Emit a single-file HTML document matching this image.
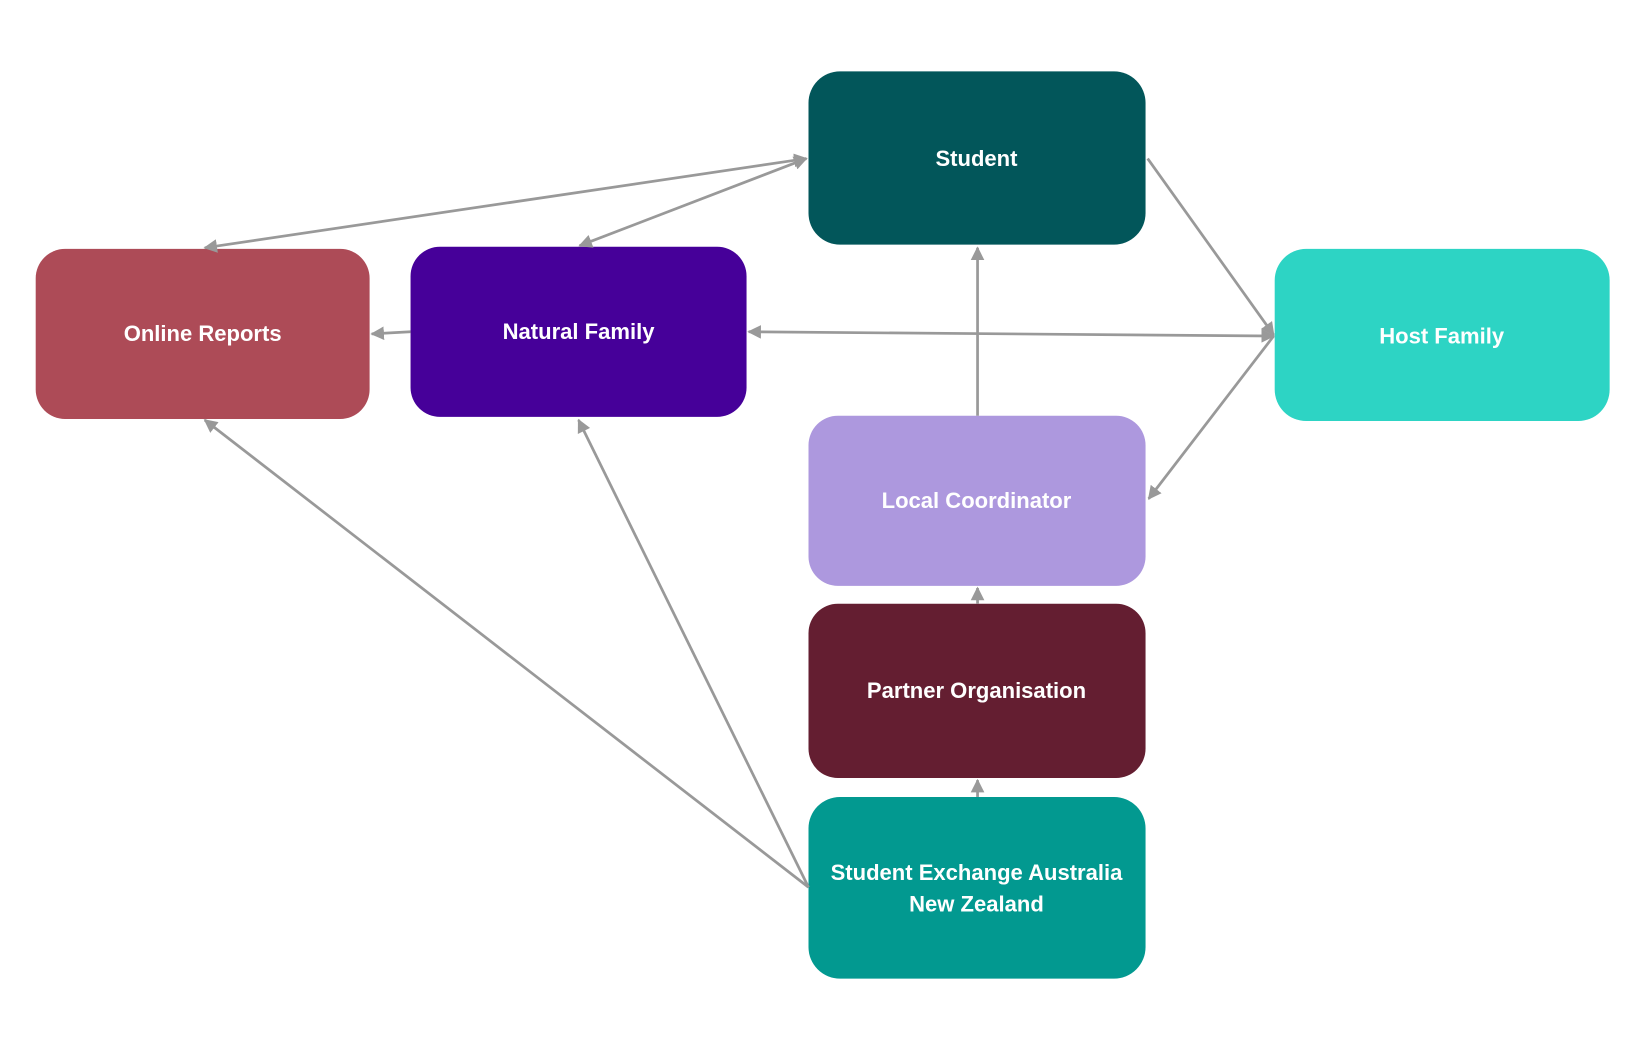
<!DOCTYPE html>
<html><head><meta charset="utf-8"><style>
html,body{margin:0;padding:0;background:#fff;}
svg{display:block;}
text{font-family:"Liberation Sans",sans-serif;font-weight:bold;fill:#fff;font-size:21px;text-anchor:middle;}
</style></head><body>
<svg width="1645" height="1050" viewBox="0 0 1566.67 1000" xmlns="http://www.w3.org/2000/svg">
<defs>
<marker id="a" viewBox="0 0 10 10" refX="9" refY="5" markerWidth="5" markerHeight="5" orient="auto-start-reverse">
<path d="M0,0 L10,5 L0,10 Z" fill="#999"/>
</marker>
</defs>
<rect x="770" y="68" width="321" height="165" rx="30" fill="#02565a"/>
<rect x="34" y="237" width="318" height="162" rx="28" fill="#ad4b57"/>
<rect x="391" y="235" width="320" height="162" rx="28" fill="#460099"/>
<rect x="1214" y="237" width="319" height="164" rx="30" fill="#2dd4c4"/>
<rect x="770" y="396" width="321" height="162" rx="28" fill="#ad98de"/>
<rect x="770" y="575" width="321" height="166" rx="28" fill="#641e31"/>
<rect x="770" y="759" width="321" height="173" rx="30" fill="#029990"/>
<g stroke="#999" stroke-width="2.6" fill="none">
<line x1="768" y1="151" x2="195" y2="236" marker-start="url(#a)" marker-end="url(#a)"/>
<line x1="768" y1="151" x2="552" y2="234" marker-start="url(#a)" marker-end="url(#a)"/>
<line x1="1093" y1="151" x2="1213" y2="319" marker-end="url(#a)"/>
<line x1="1213" y1="320" x2="713" y2="316" marker-start="url(#a)" marker-end="url(#a)"/>
<line x1="1213" y1="320" x2="1094" y2="475" marker-end="url(#a)"/>
<line x1="931" y1="396" x2="931" y2="236" marker-end="url(#a)"/>
<line x1="931" y1="575" x2="931" y2="560" marker-end="url(#a)"/>
<line x1="931" y1="759" x2="931" y2="743" marker-end="url(#a)"/>
<line x1="770" y1="845" x2="195" y2="400" marker-end="url(#a)"/>
<line x1="770" y1="845" x2="551" y2="400" marker-end="url(#a)"/>
<line x1="391" y1="316" x2="354" y2="318" marker-end="url(#a)"/>
</g>
<text x="930" y="158">Student</text>
<text x="193" y="325">Online Reports</text>
<text x="551" y="323">Natural Family</text>
<text x="1373" y="327">Host Family</text>
<text x="930" y="484">Local Coordinator</text>
<text x="930" y="665">Partner Organisation</text>
<text x="930" y="838">Student Exchange Australia</text>
<text x="930" y="868">New Zealand</text>
</svg>
</body></html>
